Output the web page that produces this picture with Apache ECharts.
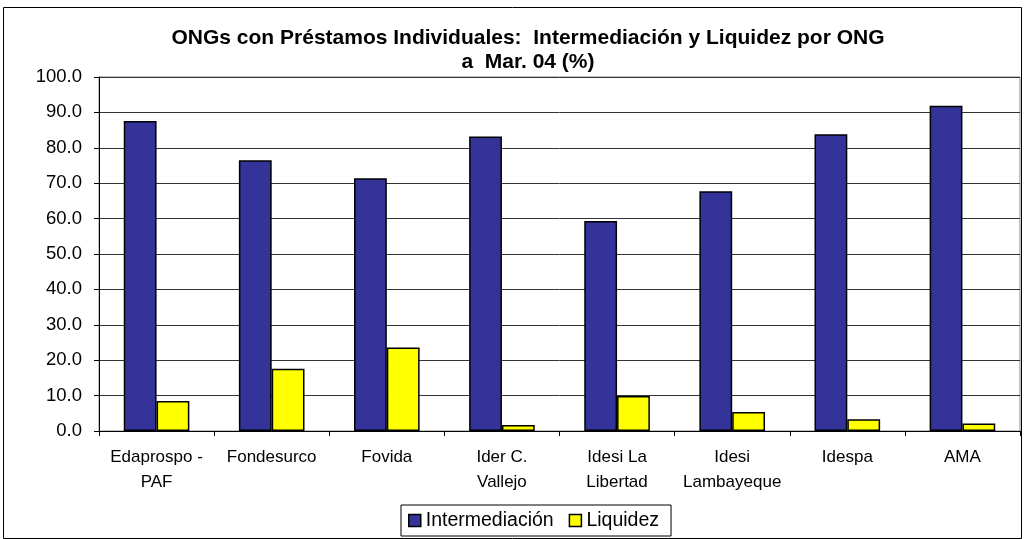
<!DOCTYPE html>
<html>
<head>
<meta charset="utf-8">
<script src="https://cdn.jsdelivr.net/npm/echarts@6/dist/echarts.min.js"></script>
<style>
html,body{margin:0;padding:0;background:#fff;}
#chart{width:1026px;height:539px;}
</style>
</head>
<body>
<div id="chart"></div>
<script>
const categories = ['Edaprospo -\nPAF', 'Fondesurco', 'Fovida', 'Ider C.\nVallejo', 'Idesi La\nLibertad', 'Idesi\nLambayeque', 'Idespa', 'AMA'];
const intermediacion = [87.6, 76.5, 71.4, 83.2, 59.3, 67.7, 83.8, 91.9];
const liquidez = [8.5, 17.6, 23.6, 1.7, 9.9, 5.4, 3.3, 2.1];
const yTicks = [0, 10, 20, 30, 40, 50, 60, 70, 80, 90, 100];

const font = '"Liberation Sans", Arial, sans-serif';
const chart = echarts.init(document.getElementById('chart'));
chart.setOption({
  animation: false,
  backgroundColor: '#fff',
  graphic: [{
    type: 'rect', shape: {x: 3.5, y: 7.5, width: 1018, height: 531},
    style: {fill: 'none', stroke: '#000', lineWidth: 1}, silent: true, z: -1
  }],
  title: {
    text: 'ONGs con Préstamos Individuales:  Intermediación y Liquidez por ONG\na  Mar. 04 (%)',
    left: 528, top: 26, textAlign: 'center', padding: 0,
    textStyle: {fontFamily: font, fontSize: 21, fontWeight: 'bold', color: '#000', lineHeight: 24}
  },
  legend: {
    data: ['Intermediación', 'Liquidez'],
    left: 401, top: 505,
    padding: [5, 12, 5, 7],
    borderColor: '#000', borderWidth: 1,
    itemGap: 15, itemWidth: 12, itemHeight: 12, icon: 'rect',
    textStyle: {fontFamily: font, fontSize: 19.5, color: '#000', lineHeight: 21},
    itemStyle: {borderColor: '#000', borderWidth: 1.5}
  },
  grid: {left: 99, right: 6, top: 77, bottom: 108, containLabel: false,
    show: true, borderColor: '#888', borderWidth: 1},
  xAxis: {
    type: 'category', data: categories,
    axisLine: {lineStyle: {color: '#000', width: 1}},
    axisTick: {show: true, length: 5, alignWithLabel: false, lineStyle: {color: '#000'}},
    axisLabel: {fontFamily: font, fontSize: 17, color: '#000', margin: 14, lineHeight: 25, interval: 0}
  },
  yAxis: {
    type: 'value', min: 0, max: 100, interval: 10,
    axisLine: {show: true, lineStyle: {color: '#000', width: 1}},
    axisTick: {show: true, length: 5, lineStyle: {color: '#000'}},
    splitLine: {lineStyle: {color: '#333', width: 1}},
    axisLabel: {fontFamily: font, fontSize: 18.5, color: '#000', margin: 17,
      formatter: v => yTicks.includes(v) ? v.toFixed(1) : ''}
  },
  series: [
    {name: 'Intermediación', type: 'bar', data: intermediacion, barGap: '0%', barCategoryGap: '43%',
      itemStyle: {color: '#333399', borderColor: '#000', borderWidth: 1.5}},
    {name: 'Liquidez', type: 'bar', data: liquidez,
      itemStyle: {color: '#FFFF00', borderColor: '#000', borderWidth: 1.5}}
  ]
});
</script>
</body>
</html>
